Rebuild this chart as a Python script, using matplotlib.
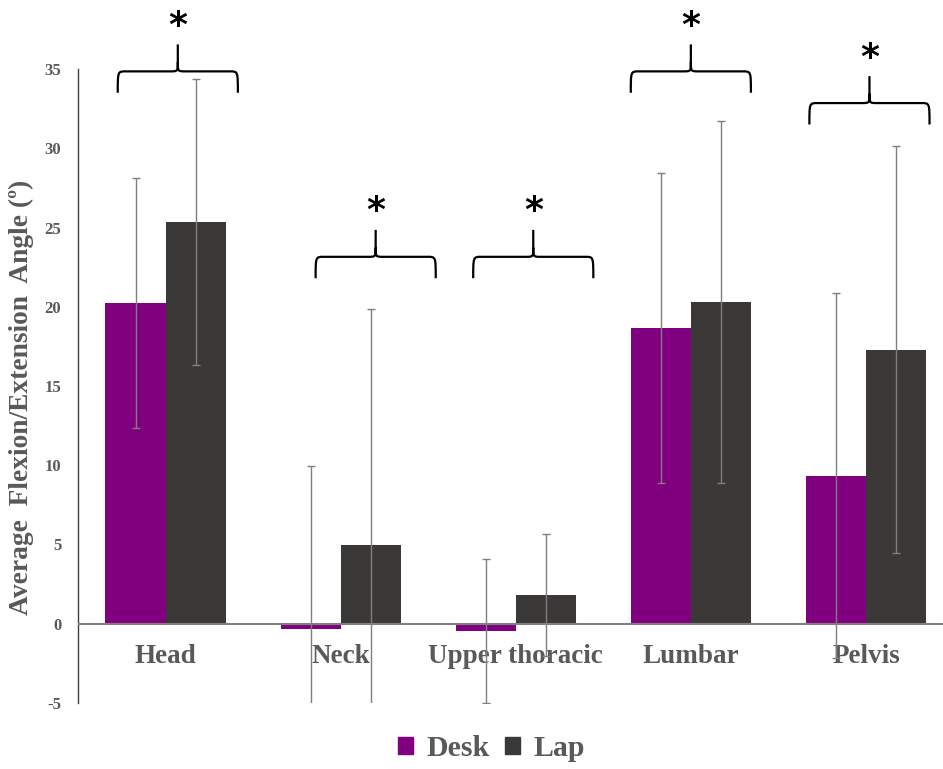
import matplotlib
matplotlib.use("Agg")
import matplotlib.pyplot as plt
import numpy as np
from matplotlib.path import Path
from matplotlib.patches import PathPatch, Patch

categories = ["Head", "Neck", "Upper thoracic", "Lumbar", "Pelvis"]
desk_mean = [20.25, -0.35, -0.45, 18.65, 9.35]
desk_sd = [7.9, 10.3, 4.55, 9.8, 11.5]
lap_mean = [25.35, 4.95, 1.8, 20.3, 17.3]
lap_sd = [9.05, 14.9, 3.85, 11.4, 12.85]
brace_center = [0.07, 1.2, 2.1, 3.0, 4.02]     # category units
brace_foot = [33.5, 21.8, 21.8, 33.5, 31.5]    # data units
ytick_vals = [-5, 0, 5, 10, 15, 20, 25, 30, 35]

desk_color = "#800080"
lap_color = "#3a3938"
err_color = "#7f7f7f"
text_gray = "#595959"
serif = ["Liberation Serif", "DejaVu Serif"]

fig = plt.figure(figsize=(9.43, 7.69), dpi=100)
ax = fig.add_axes([78/943, 1-703/769, 1-78/943, (703-69)/769])

x = np.arange(len(categories))
w = 0.343
ax.bar(x - w/2, desk_mean, w, color=desk_color, zorder=2)
ax.bar(x + w/2, lap_mean, w, color=lap_color, zorder=2)
ax.errorbar(x - w/2, desk_mean, yerr=desk_sd, fmt="none", ecolor=err_color,
            elinewidth=1, capsize=3, capthick=1, zorder=3)
ax.errorbar(x + w/2, lap_mean, yerr=lap_sd, fmt="none", ecolor=err_color,
            elinewidth=1, capsize=3, capthick=1, zorder=3)

ax.set_xlim(-0.5, 4.44)
ax.set_ylim(-5, 35)
ax.axhline(0, color="#808080", lw=1.5, zorder=4)

for s in ["top", "right", "bottom"]:
    ax.spines[s].set_visible(False)
ax.spines["left"].set_color("#404040")
ax.spines["left"].set_linewidth(1.0)
ax.set_xticks([])
ax.set_yticks(ytick_vals)
ax.set_yticklabels([str(v) for v in ytick_vals], fontfamily=serif,
                   fontweight="bold", fontsize=12, color=text_gray)
ax.tick_params(axis="y", length=0, pad=12)

ax.set_ylabel("Average  Flexion/Extension  Angle (º)", fontfamily=serif,
              fontweight="bold", fontsize=19.8, color=text_gray)
ax.yaxis.set_label_coords(-44/865, (703-397)/634)

for i, c in enumerate(categories):
    ax.text(i, -2.08, c, ha="center", va="center", fontfamily=serif,
            fontweight="bold", fontsize=19.5, color=text_gray, zorder=1)

# curly braces with significance stars
def brace(xc, y0, half=0.343, h_end=1.35, h_tip=1.7):
    y1 = y0 + h_end          # horizontal level
    y2 = y1 + h_tip          # tip
    r = 0.045
    xl, xr = xc - half, xc + half
    verts = [
        (xl, y0), (xl, y1), (xl, y1), (xl + r, y1),
        (xc - r, y1),
        (xc, y1), (xc, y1), (xc, y1 + 0.6),
        (xc, y2),
    ]
    codes = [Path.MOVETO, Path.CURVE4, Path.CURVE4, Path.CURVE4,
             Path.LINETO,
             Path.CURVE4, Path.CURVE4, Path.CURVE4,
             Path.LINETO]
    verts2 = [
        (xr, y0), (xr, y1), (xr, y1), (xr - r, y1),
        (xc + r, y1),
        (xc, y1), (xc, y1), (xc, y1 + 0.6),
    ]
    codes2 = [Path.MOVETO, Path.CURVE4, Path.CURVE4, Path.CURVE4,
              Path.LINETO,
              Path.CURVE4, Path.CURVE4, Path.CURVE4]
    p = Path(verts + verts2, codes + codes2)
    ax.add_patch(PathPatch(p, fill=False, lw=1.6, color="black",
                           clip_on=False, zorder=5))
    ax.text(xc, y2 + 0.1, "*", ha="center", va="bottom", fontsize=26,
            fontweight="bold", color="black", clip_on=False,
            fontfamily="DejaVu Sans")

for xc, yb in zip(brace_center, brace_foot):
    brace(xc, yb)

handles = [Patch(color=desk_color, label="Desk"), Patch(color=lap_color, label="Lap")]
leg = fig.legend(handles=handles, loc="center", bbox_to_anchor=(0.521, 1-749/769),
                 ncol=2, frameon=False, handlelength=0.5, handleheight=0.5,
                 handletextpad=0.45, columnspacing=0.5,
                 prop={"family": serif, "weight": "bold", "size": 21.5})
for t in leg.get_texts():
    t.set_color(text_gray)

fig.savefig("out.png", dpi=100)
